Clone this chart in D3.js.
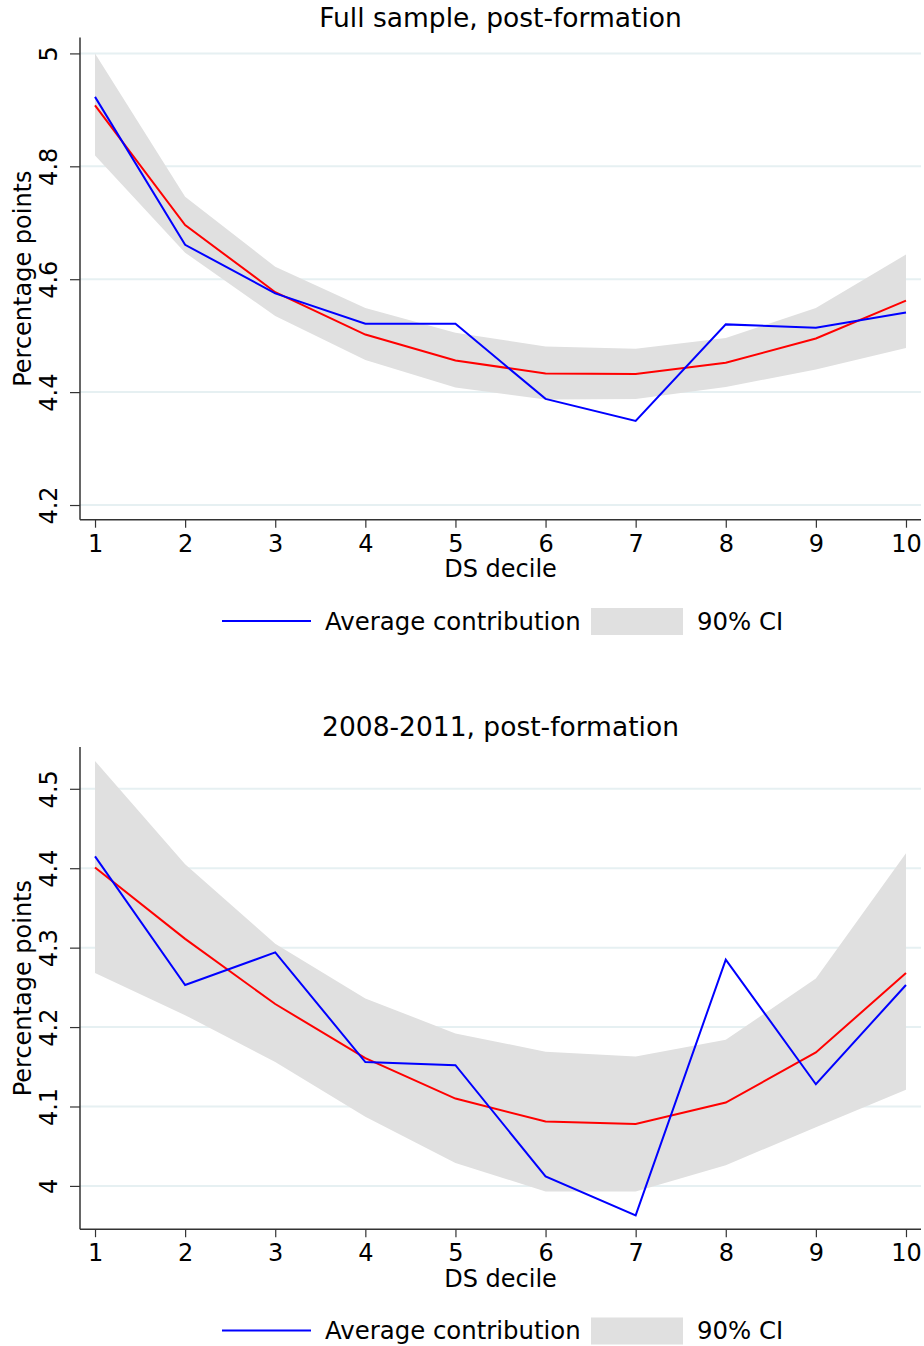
<!DOCTYPE html>
<html>
<head>
<meta charset="utf-8">
<script src="https://cdn.jsdelivr.net/npm/d3@7"></script>
<style>
  html, body { margin: 0; padding: 0; background: #fff; }
  svg { display: block; }
  text { font-family: "DejaVu Sans", sans-serif; fill: #000; }
</style>
</head>
<body>
<svg id="chart" width="924" height="1346"></svg>
<script>
// ---- Data ----
const deciles = [1, 2, 3, 4, 5, 6, 7, 8, 9, 10];

const topTitle = "Full sample, post-formation";
const topTicks = [4.2, 4.4, 4.6, 4.8, 5];
const topTickLabels = ["4.2", "4.4", "4.6", "4.8", "5"];
const topAvg = [4.923, 4.661, 4.575, 4.521, 4.521, 4.388, 4.349, 4.520, 4.514, 4.541];
const topFit = [4.908, 4.696, 4.577, 4.502, 4.456, 4.433, 4.432, 4.452, 4.495, 4.562];
const topLo  = [4.819, 4.647, 4.535, 4.457, 4.408, 4.387, 4.388, 4.409, 4.440, 4.478];
const topHi  = [5.000, 4.746, 4.622, 4.549, 4.505, 4.481, 4.477, 4.496, 4.549, 4.644];

const botTitle = "2008-2011, post-formation";
const botTicks = [4.0, 4.1, 4.2, 4.3, 4.4, 4.5];
const botTickLabels = ["4", "4.1", "4.2", "4.3", "4.4", "4.5"];
const botAvg = [4.415, 4.253, 4.294, 4.156, 4.152, 4.012, 3.963, 4.285, 4.128, 4.253];
const botFit = [4.401, 4.311, 4.229, 4.161, 4.110, 4.081, 4.078, 4.105, 4.168, 4.268];
const botLo  = [4.268, 4.215, 4.156, 4.087, 4.029, 3.993, 3.993, 4.026, 4.074, 4.121];
const botHi  = [4.535, 4.405, 4.305, 4.236, 4.192, 4.169, 4.163, 4.184, 4.261, 4.419];

const xLabel = "DS decile";
const yLabel = "Percentage points";
const legendLabels = ["Average contribution", "90% CI"];

// ---- Drawing ----
const svg = d3.select("#chart");

function panel(off, cfg) {
  const left = 80, right = 921, top = 37.6 + off, bottom = 519.7 + off;
  const g = svg.append("g");
  const x = d3.scaleLinear().domain([0.8333, 10.1667]).range([left, right]);
  const y = d3.scaleLinear().domain(cfg.yDomain).range([bottom, top]);

  // gridlines
  g.selectAll("line.grid").data(cfg.ticks).enter().append("line")
    .attr("x1", left).attr("x2", right)
    .attr("y1", d => y(d)).attr("y2", d => y(d))
    .attr("stroke", "#e6f0f2").attr("stroke-width", 2);

  // CI band
  const rows = deciles.map((d, i) => ({ d, lo: cfg.lo[i], hi: cfg.hi[i], avg: cfg.avg[i], fit: cfg.fit[i] }));
  g.append("path").datum(rows)
    .attr("d", d3.area().x(r => x(r.d)).y0(r => y(r.lo)).y1(r => y(r.hi)))
    .attr("fill", "#e0e0e0").attr("stroke", "none");

  // fitted (red) and average (blue)
  g.append("path").datum(rows)
    .attr("d", d3.line().x(r => x(r.d)).y(r => y(r.fit)))
    .attr("fill", "none").attr("stroke", "#ff0000").attr("stroke-width", 2);
  g.append("path").datum(rows)
    .attr("d", d3.line().x(r => x(r.d)).y(r => y(r.avg)))
    .attr("fill", "none").attr("stroke", "#0000ff").attr("stroke-width", 2);

  // axes
  const yAxis = d3.axisLeft(y).tickValues(cfg.ticks).tickSize(10).tickFormat((d, i) => cfg.tickLabels[i]);
  const ya = g.append("g").attr("transform", `translate(${left},0)`).call(yAxis);
  ya.select(".domain").attr("d", `M0,${top}V${bottom}`).attr("stroke", "#333").attr("stroke-width", 1.5);
  ya.selectAll(".tick line").attr("stroke", "#333").attr("stroke-width", 1.2);
  ya.selectAll(".tick text")
    .attr("x", null).attr("dy", null)
    .attr("transform", "translate(-31,0) rotate(-90)")
    .attr("text-anchor", "middle").attr("dominant-baseline", "central")
    .style("font-size", "24px").style("font-family", "DejaVu Sans");

  const xAxis = d3.axisBottom(x).tickValues(deciles).tickSize(8).tickFormat(d3.format("d"));
  const xa = g.append("g").attr("transform", `translate(0,${bottom})`).call(xAxis);
  xa.select(".domain").attr("d", `M${left},0H${right}`).attr("stroke", "#333").attr("stroke-width", 1.5);
  xa.selectAll(".tick line").attr("stroke", "#333").attr("stroke-width", 1.2);
  xa.selectAll(".tick text").attr("y", 24).attr("dy", null)
    .attr("dominant-baseline", "central")
    .style("font-size", "24px").style("font-family", "DejaVu Sans");

  const cx = (left + right) / 2;
  // title
  g.append("text").attr("x", cx).attr("y", 17 + off)
    .attr("text-anchor", "middle").attr("dominant-baseline", "central")
    .style("font-size", "26.5px").text(cfg.title);
  // axis labels
  g.append("text").attr("x", cx).attr("y", 569 + off)
    .attr("text-anchor", "middle").attr("dominant-baseline", "central")
    .style("font-size", "24px").text(xLabel);
  g.append("text").attr("transform", `translate(23,${(top + bottom) / 2}) rotate(-90)`)
    .attr("text-anchor", "middle").attr("dominant-baseline", "central")
    .style("font-size", "24px").text(yLabel);

  // legend
  const ly = 621 + off;
  g.append("line").attr("x1", 222).attr("x2", 311).attr("y1", ly).attr("y2", ly)
    .attr("stroke", "#0000ff").attr("stroke-width", 2);
  g.append("text").attr("x", 325).attr("y", ly).attr("dominant-baseline", "central")
    .style("font-size", "24.4px").text(legendLabels[0]);
  g.append("rect").attr("x", 591).attr("y", ly - 13).attr("width", 92).attr("height", 27)
    .attr("fill", "#e0e0e0");
  g.append("text").attr("x", 697).attr("y", ly).attr("dominant-baseline", "central")
    .style("font-size", "24.4px").text(legendLabels[1]);
}

panel(0, { title: topTitle, yDomain: [4.174, 5.028], ticks: topTicks, tickLabels: topTickLabels,
  avg: topAvg, fit: topFit, lo: topLo, hi: topHi });
panel(709.5, { title: botTitle, yDomain: [3.9455, 4.5525], ticks: botTicks, tickLabels: botTickLabels,
  avg: botAvg, fit: botFit, lo: botLo, hi: botHi });
</script>
</body>
</html>
